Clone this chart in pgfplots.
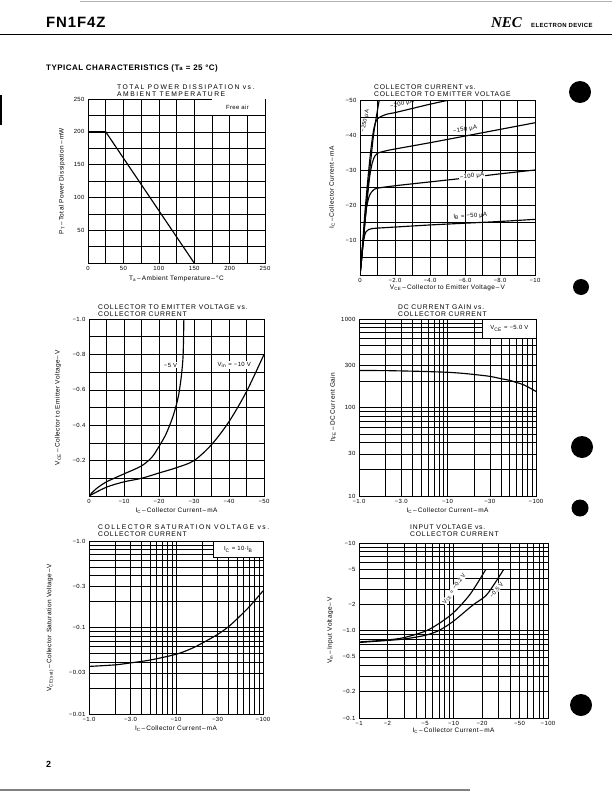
\documentclass[border=0pt]{standalone}
\usepackage{pgfplots}
\pgfplotsset{compat=1.18}
\usepackage{fontspec}
\setmainfont{Liberation Sans}[LetterSpace=6]
\newfontfamily\necfont{Liberation Serif}
\newcommand\sub[1]{\textsubscript{#1}}
\newcommand\ttl{\fontsize{6.8}{7}\selectfont\addfontfeatures{LetterSpace=12}}
\newcommand\ttlw{\fontsize{6.8}{7}\selectfont\addfontfeatures{LetterSpace=22}}
\pgfplotsset{
  ds/.style={
    scale only axis, anchor=south west,
    axis line style={line width=0.9pt},
    grid=major,
    major grid style={black, line width=0.45pt},
    major tick length=0pt, minor tick length=0pt,
    tick label style={font=\fontsize{6}{7}\selectfont},
    label style={font=\fontsize{6.5}{7}\selectfont},
  },
  crv/.style={black, line width=1.15pt, mark=none},
}
\begin{document}
\begin{tikzpicture}
\path[use as bounding box] (0,0) rectangle (612bp,-791bp);
% header
\node[anchor=base west, inner sep=0, font=\fontsize{15}{16}\selectfont\bfseries] at (46bp,-27bp) {FN1F4Z};
\node[anchor=base west, inner sep=0, font=\necfont\bfseries\itshape\fontsize{15}{16}\selectfont] at (491bp,-27bp) {NEC};
\node[anchor=base west, inner sep=0, font=\bfseries\fontsize{6}{7}\selectfont] at (531bp,-27bp) {ELECTRON DEVICE};
\draw[line width=0.9pt] (0,-34bp) -- (612bp,-34bp);
\draw[line width=0.4pt, gray!60] (80bp,-1bp) -- (612bp,-1bp);
\node[anchor=base west, inner sep=0, font=\bfseries\fontsize{8}{9}\selectfont] at (46bp,-70bp) {TYPICAL CHARACTERISTICS (T\sub{a} = 25 °C)};
\node[anchor=base west, inner sep=0, font=\bfseries\fontsize{9}{10}\selectfont] at (46bp,-767bp) {2};
\draw[line width=1.2pt] (1bp,-95bp) -- (1bp,-125bp);
\draw[line width=1.2pt, gray] (0,-790bp) -- (470bp,-790bp);
% punch holes
\fill (580bp,-92bp) circle (11bp);
\fill (581bp,-287bp) circle (8bp);
\fill (582bp,-447bp) circle (11bp);
\fill (580bp,-508bp) circle (8.5bp);
\fill (581bp,-705bp) circle (11bp);

% titles
\node[anchor=base west, inner sep=0, font=\ttlw] at (117bp,-89bp) {TOTAL POWER DISSIPATION vs.};
\node[anchor=base west, inner sep=0, font=\ttlw] at (117bp,-96bp) {AMBIENT TEMPERATURE};
\node[anchor=base west, inner sep=0, font=\ttl] at (374bp,-89bp) {COLLECTOR CURRENT vs.};
\node[anchor=base west, inner sep=0, font=\ttl] at (374bp,-96bp) {COLLECTOR TO EMITTER VOLTAGE};
\node[anchor=base west, inner sep=0, font=\ttl] at (98bp,-309bp) {COLLECTOR TO EMITTER VOLTAGE vs.};
\node[anchor=base west, inner sep=0, font=\ttl] at (98bp,-316bp) {COLLECTOR CURRENT};
\node[anchor=base west, inner sep=0, font=\ttl] at (398bp,-309bp) {DC CURRENT GAIN vs.};
\node[anchor=base west, inner sep=0, font=\ttl] at (398bp,-316bp) {COLLECTOR CURRENT};
\node[anchor=base west, inner sep=0, font=\ttlw] at (98bp,-529bp) {COLLECTOR SATURATION VOLTAGE vs.};
\node[anchor=base west, inner sep=0, font=\ttl] at (98bp,-536bp) {COLLECTOR CURRENT};
\node[anchor=base west, inner sep=0, font=\ttl] at (410bp,-529bp) {INPUT VOLTAGE vs.};
\node[anchor=base west, inner sep=0, font=\ttl] at (410bp,-536bp) {COLLECTOR CURRENT};

% ---------- P1
\begin{axis}[ds, at={(88bp,-263bp)}, width=177bp, height=164bp,
  xmin=0, xmax=250, ymin=0, ymax=250,
  xtick={0,25,...,250}, xticklabels={0,,50,,100,,150,,200,,250},
  ytick={0,25,...,250}, yticklabels={,,50,,100,,150,,200,,250},
  xlabel={T\sub{a}\,–\,Ambient Temperature\,–\,°C},
  ylabel={P\sub{T}\,–\,Total Power Dissipation\,–\,mW},
  xlabel style={at={(axis description cs:0.5,-0.098)}, anchor=center},
  ylabel style={at={(axis description cs:-0.147,0.5)}, anchor=center}]
\addplot[crv] coordinates {(0,200) (25,200) (150,0)};
\fill[white] (axis cs:175.8,225.8) rectangle (axis cs:249.5,249.5);
\node[font=\fontsize{6}{7}\selectfont] at (axis cs:211,237.5) {Free air};
\end{axis}

% ---------- P2
\begin{axis}[ds, at={(360bp,-275bp)}, width=175bp, height=175bp,
  xmin=0, xmax=10, ymin=0, ymax=50,
  xtick={0,1,...,10}, xticklabels={0,,−2.0,,−4.0,,−6.0,,−8.0,,−10},
  ytick={0,5,...,50}, yticklabels={,,−10,,−20,,−30,,−40,,−50},
  xlabel={V\sub{CE}\,–\,Collector to Emitter Voltage\,–\,V},
  ylabel={I\sub{C}\,–\,Collector Current\,–\,mA},
  xlabel style={at={(axis description cs:0.5,-0.074)}, anchor=center},
  ylabel style={at={(axis description cs:-0.16,0.5)}, anchor=center}]
\addplot[crv, smooth] coordinates {(0,0) (0.08,4) (0.15,8) (0.25,11) (0.35,12.4) (0.5,13.0) (0.75,13.3) (1,13.4) (2,13.7) (4,14.3) (6,14.8) (8,15.3) (10,15.9)};
\addplot[crv, smooth] coordinates {(0,0) (0.1,5) (0.2,11) (0.3,16.5) (0.4,20) (0.55,22.8) (0.75,24.2) (1,24.8) (2,25.5) (4,26.6) (6,27.7) (8,28.9) (10,30)};
\addplot[crv, smooth] coordinates {(0,0) (0.2,11) (0.4,21) (0.55,28) (0.7,32) (0.85,34) (1,34.8) (1.5,35.5) (2,36) (4,37.8) (6,39.7) (8,41.6) (10,43.5)};
\addplot[crv, smooth] coordinates {(0,0) (0.15,9) (0.3,19) (0.5,30) (0.65,37) (0.8,42) (1,44.6) (1.5,45.9) (2,46.4) (3,47.6) (4,48.8) (5.1,50)};
\addplot[crv, smooth] coordinates {(0,0) (0.2,10) (0.4,22) (0.6,32) (0.8,41) (1.1,50)};
\node[font=\fontsize{5.5}{6}\selectfont, rotate=78, inner sep=0.5pt] at (axis cs:0.3,44) {−250 μA};
\node[font=\fontsize{6}{7}\selectfont, rotate=14, inner sep=0.5pt] at (axis cs:2.4,48.8) {−200 μA};
\node[font=\fontsize{6}{7}\selectfont, rotate=10, inner sep=0.5pt] at (axis cs:6.0,41.6) {−150 μA};
\node[font=\fontsize{6}{7}\selectfont, rotate=6, fill=white, inner sep=0.8pt] at (axis cs:6.4,28.2) {−100 μA};
\node[font=\fontsize{6}{7}\selectfont, rotate=3, inner sep=0.5pt] at (axis cs:6.3,16.8) {I\sub{B} = −50 μA};
\end{axis}

% ---------- P3
\begin{axis}[ds, at={(89bp,-496bp)}, width=175bp, height=177bp,
  xmin=0, xmax=50, ymin=0, ymax=1,
  xtick={0,5,...,50}, xticklabels={0,,−10,,−20,,−30,,−40,,−50},
  ytick={0,0.1,0.2,0.3,0.4,0.5,0.6,0.7,0.8,0.9,1.0}, yticklabels={,,−0.2,,−0.4,,−0.6,,−0.8,,−1.0},
  xlabel={I\sub{C}\,–\,Collector Current\,–\,mA},
  ylabel={V\sub{CE}\,–\,Collector to Emitter Voltage\,–\,V},
  xlabel style={at={(axis description cs:0.5,-0.085)}, anchor=center},
  ylabel style={at={(axis description cs:-0.177,0.5)}, anchor=center}]
\addplot[crv, smooth] coordinates {(0,0) (2,0.04) (5,0.08) (10,0.125) (15,0.17) (18,0.22) (20,0.28) (22,0.35) (24,0.45) (25.5,0.56) (26.4,0.68) (26.9,0.8) (27.1,1.0)};
\addplot[crv, smooth] coordinates {(0,0) (5,0.05) (10,0.08) (15,0.10) (20,0.13) (25,0.16) (30,0.2) (35,0.29) (40,0.42) (45,0.59) (50,0.8)};
\node[font=\fontsize{6}{7}\selectfont, fill=white, inner sep=1pt] at (axis cs:23.3,0.74) {−5 V};
\node[font=\fontsize{6}{7}\selectfont, fill=white, inner sep=1pt] at (axis cs:41.5,0.74) {V\sub{in} = −10 V};
\end{axis}

% ---------- P4
\begin{axis}[ds, at={(359bp,-496bp)}, width=177bp, height=177bp,
  xmode=log, xmin=1, xmax=100,
  xtick={1,2,3,4,5,6,7,8,9,10,20,30,40,50,60,70,80,90,100},
  xticklabels={−1.0,,−3.0,,,,,,,−10,,−30,,,,,,,−100},
  ymode=log, ymin=10, ymax=1000,
  ytick={10,20,30,40,50,60,70,80,90,100,200,300,400,500,600,700,800,900,1000},
  yticklabels={10,,30,,,,,,,100,,300,,,,,,,1000},
  xlabel={I\sub{C}\,–\,Collector Current\,–\,mA},
  ylabel={h\sub{FE}\,–\,DC Current Gain},
  xlabel style={at={(axis description cs:0.5,-0.085)}, anchor=center},
  ylabel style={at={(axis description cs:-0.147,0.5)}, anchor=center}]
\addplot[crv, smooth] coordinates {(1,262) (2,261) (3,259) (5,256) (10,250) (15,243) (20,236) (30,225) (40,212) (50,203) (60,192) (70,183) (80,172) (100,152)};
\draw[fill=white, line width=0.6pt] (axis cs:25,610) rectangle (axis cs:100,1000);
\node[font=\fontsize{6}{7}\selectfont] at (axis cs:50,780) {V\sub{CE} = −5.0 V};
\end{axis}

% ---------- P5
\begin{axis}[ds, at={(89bp,-714bp)}, width=174bp, height=173bp,
  xmode=log, xmin=1, xmax=100,
  xtick={1,2,3,4,5,6,7,8,9,10,20,30,40,50,60,70,80,90,100},
  xticklabels={−1.0,,−3.0,,,,,,,−10,,−30,,,,,,,−100},
  ymode=log, ymin=0.01, ymax=1,
  ytick={0.01,0.02,0.03,0.04,0.05,0.06,0.07,0.08,0.09,0.1,0.2,0.3,0.4,0.5,0.6,0.7,0.8,0.9,1},
  yticklabels={−0.01,,−0.03,,,,,,,−0.1,,−0.3,,,,,,,−1.0},
  xlabel={I\sub{C}\,–\,Collector Current\,–\,mA},
  ylabel={V\sub{CE(sat)}\,–\,Collector Saturation Voltage\,–\,V},
  xlabel style={at={(axis description cs:0.5,-0.087)}, anchor=center},
  ylabel style={at={(axis description cs:-0.224,0.5)}, anchor=center}]
\addplot[crv, smooth] coordinates {(1,0.0355) (2,0.037) (3,0.039) (5,0.042) (10,0.049) (15,0.057) (20,0.066) (30,0.083) (40,0.102) (50,0.125) (70,0.175) (100,0.265)};
\draw[fill=white, line width=0.6pt] (axis cs:27,0.65) rectangle (axis cs:100,1);
\node[font=\fontsize{6}{7}\selectfont] at (axis cs:52,0.8) {I\sub{C} = 10·I\sub{B}};
\end{axis}

% ---------- P6
\begin{axis}[ds, at={(359bp,-718bp)}, width=189bp, height=175bp,
  xmode=log, xmin=1, xmax=100,
  xtick={1,2,3,4,5,6,7,8,9,10,20,30,40,50,60,70,80,90,100},
  xticklabels={−1,−2,,,−5,,,,,−10,−20,,,−50,,,,,−100},
  ymode=log, ymin=0.1, ymax=10,
  ytick={0.1,0.2,0.3,0.4,0.5,0.6,0.7,0.8,0.9,1,2,3,4,5,6,7,8,9,10},
  yticklabels={−0.1,−0.2,,,−0.5,,,,,−1.0,−2,,,−5,,,,,−10},
  xlabel={I\sub{C}\,–\,Collector Current\,–\,mA},
  ylabel={V\sub{in}\,–\,Input Voltage\,–\,V},
  xlabel style={at={(axis description cs:0.5,-0.07)}, anchor=center},
  ylabel style={at={(axis description cs:-0.153,0.5)}, anchor=center}]
\addplot[crv, smooth] coordinates {(1,0.74) (2,0.78) (3,0.83) (5,0.98) (7,1.2) (10,1.6) (15,2.6) (22,5)};
\addplot[crv, smooth] coordinates {(1,0.73) (2,0.77) (3,0.8) (5,0.88) (7,1.0) (10,1.28) (16,1.95) (22,2.5) (28,3.6) (34,5)};
\node[font=\fontsize{5.8}{6}\selectfont, rotate=55, fill=white, inner sep=0.5pt] at (axis cs:10.2,3.0) {V\sub{CE} = −0.2 V};
\node[font=\fontsize{5.8}{6}\selectfont, rotate=52, fill=white, inner sep=0.5pt] at (axis cs:28.5,2.9) {−0.5 V};
\end{axis}
\end{tikzpicture}
\end{document}
